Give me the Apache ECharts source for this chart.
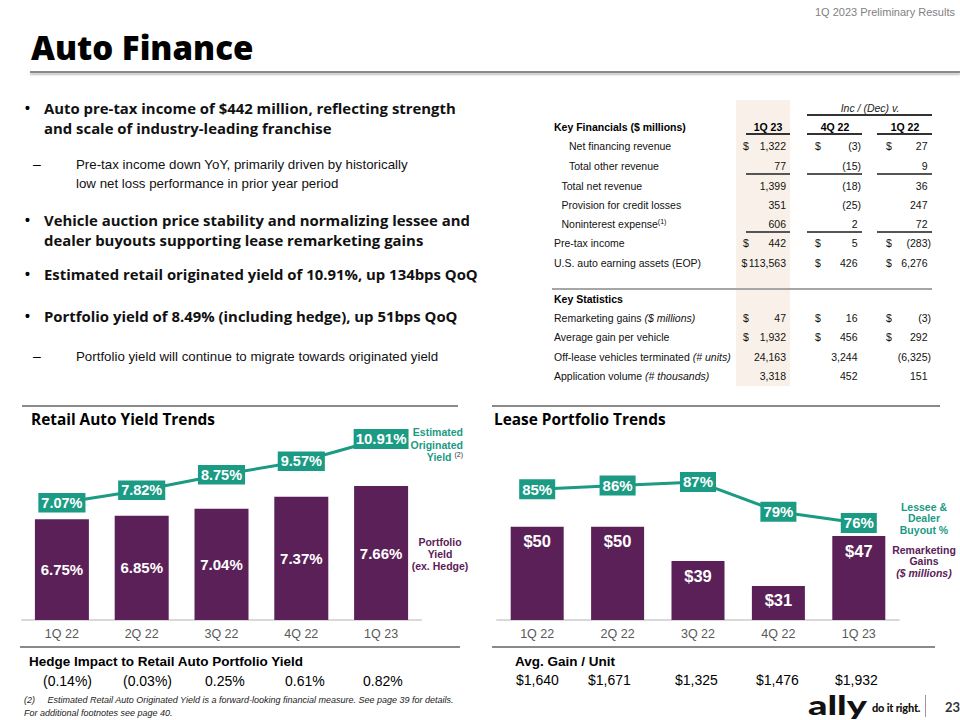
<!DOCTYPE html>
<html><head><meta charset="utf-8">
<script src="https://cdn.jsdelivr.net/npm/echarts@6/dist/echarts.min.js"></script>
<style>
html,body{margin:0;padding:0;background:#fff;}
#page{position:relative;width:960px;height:720px;overflow:hidden;background:#fff;}
#chart{position:absolute;left:0;top:0;width:960px;height:720px;}
.t{position:absolute;white-space:nowrap;font-family:"Liberation Sans",Arial,sans-serif;color:#000;}
.ln{position:absolute;}
.sup{font-size:7px;vertical-align:4px;line-height:0;}
</style></head>
<body><div id="page"><div id="chart"></div></div>
<script>
// ---------- data ----------
const quarters = ['1Q 22','2Q 22','3Q 22','4Q 22','1Q 23'];
const portfolioYield = [6.75, 6.85, 7.04, 7.37, 7.66];
const originatedYield = [7.07, 7.82, 8.75, 9.57, 10.91];
const remarketingGains = [50, 50, 39, 31, 47];
const buyoutPct = [85, 86, 87, 79, 76];
const hedgeImpact = ['(0.14%)', '(0.03%)', '0.25%', '0.61%', '0.82%'];
const avgGainPerUnit = ['$1,640', '$1,671', '$1,325', '$1,476', '$1,932'];

const tableHeaders = ['1Q 23', '4Q 22', '1Q 22'];
const finLabels = ['Net financing revenue', 'Total other revenue', 'Total net revenue', 'Provision for credit losses', 'Noninterest expense<span class="sup">(1)</span>', 'Pre-tax income', 'U.S. auto earning assets (EOP)'];
const finIndent = [2, 2, 1, 1, 1, 0, 0];
const finDollar = [true, false, false, false, false, true, true];
const fin1Q23 = ['1,322', '77', '1,399', '351', '606', '442', '113,563'];
const fin4Q22 = ['(3)', '(15)', '(18)', '(25)', '2', '5', '426'];
const fin1Q22 = ['27', '9', '36', '247', '72', '(283)', '6,276'];
const statLabels = ['Remarketing gains <i>($ millions)</i>', 'Average gain per vehicle', 'Off-lease vehicles terminated <i>(# units)</i>', 'Application volume <i>(# thousands)</i>'];
const statDollar = [true, true, false, false];
const stat1Q23 = ['47', '1,932', '24,163', '3,318'];
const stat4Q22 = ['16', '456', '3,244', '452'];
const stat1Q22 = ['(3)', '292', '(6,325)', '151'];

// ---------- colours ----------
const TEAL = '#1b9a84', PURPLE = '#5b2058';

// ---------- text helpers ----------
const page = document.getElementById('page');
function T(html, x, y, css, align, lh) {
  lh = lh || 16;
  const d = document.createElement('div');
  d.className = 't';
  d.innerHTML = html;
  d.style.lineHeight = lh + 'px';
  d.style.top = (y - lh / 2) + 'px';
  if (align === 'right') { d.style.right = (960 - x) + 'px'; d.style.textAlign = 'right'; }
  else if (align === 'center') { d.style.left = x + 'px'; d.style.transform = 'translateX(-50%)'; d.style.textAlign = 'center'; }
  else d.style.left = x + 'px';
  if (css) d.style.cssText += css;
  page.appendChild(d);
  return d;
}
function L(x1, y, x2, color, w, extra) {
  const d = document.createElement('div');
  d.className = 'ln';
  d.style.cssText = `left:${x1}px;top:${y - w / 2}px;width:${x2 - x1}px;height:${w}px;background:${color};` + (extra || '');
  page.appendChild(d);
}
function R(x, y, w, h, color) {
  const d = document.createElement('div');
  d.className = 'ln';
  d.style.cssText = `left:${x}px;top:${y}px;width:${w}px;height:${h}px;background:${color};`;
  page.appendChild(d);
}

// ---------- header ----------
T('1Q 2023 Preliminary Results', 955, 12, 'font-size:11px;color:#7f7f7f;', 'right');
T('Auto Finance', 31, 48, 'font-family:"Open Sans",sans-serif;font-weight:800;font-size:33px;', 'left', 42);
L(30, 72, 960, '#8a8a8a', 2, 'box-shadow:0 2px 2px rgba(0,0,0,0.25);');

// ---------- bullets ----------
const bCss = 'font-family:"Open Sans",sans-serif;font-weight:700;font-size:14.9px;color:#111;';
const dCss = 'font-size:13.3px;color:#111;';
function bullet(lines, y0) {
  T('•', 25, y0, 'font-size:14px;font-weight:bold;');
  lines.forEach((s, i) => T(s, 44, y0 + i * 20, bCss, 'left', 20));
}
function dash(lines, y0) {
  T('–', 33, y0, 'font-size:14px;');
  lines.forEach((s, i) => T(s, 76, y0 + i * 19, dCss, 'left', 19));
}
bullet(['Auto pre-tax income of $442 million, reflecting strength', 'and scale of industry-leading franchise'], 108);
dash(['Pre-tax income down YoY, primarily driven by historically', 'low net loss performance in prior year period'], 164);
bullet(['Vehicle auction price stability and normalizing lessee and', 'dealer buyouts supporting lease remarketing gains'], 220);
bullet(['Estimated retail originated yield of 10.91%, up 134bps QoQ'], 274);
bullet(['Portfolio yield of 8.49% (including hedge), up 51bps QoQ'], 316);
dash(['Portfolio yield will continue to migrate towards originated yield'], 356);

// ---------- table ----------
R(736, 100, 54, 286, '#f9f1e9');
T('Inc / (Dec) v.', 870, 108, 'font-size:10.5px;font-style:italic;color:#222;', 'center');
L(807, 115, 932, '#333', 1.2);
T('Key Financials ($ millions)', 554, 127, 'font-size:10.5px;font-weight:bold;');
const colC = [768, 835, 905];
tableHeaders.forEach((h, i) => T(h, colC[i], 127, 'font-size:10.5px;font-weight:bold;', 'center'));
const spans = [[746, 790], [807, 862], [877, 932]];
spans.forEach(s => L(s[0], 134, s[1], '#333', 1.2));
const dollarX = [743, 815, 886];
const rightX = [786, 857.5, 927.5];
const tCss = 'font-size:10.5px;color:#111;';
function tRow(label, indent, dollar, vals, y) {
  T(label, 554 + indent * 7.5, y, tCss);
  vals.forEach((v, i) => {
    if (dollar) T('$', dollarX[i] - (v.length > 6 ? 1.5 : 0), y, tCss);
    const neg = v.charAt(0) === '(';
    T(v, rightX[i] + (neg ? 3.5 : 0), y, tCss, 'right');
  });
}
const finY = [146, 166, 186, 205, 224, 243, 263];
finLabels.forEach((lab, i) => tRow(lab, finIndent[i], finDollar[i], [fin1Q23[i], fin4Q22[i], fin1Q22[i]], finY[i]));
[174, 232].forEach(y => spans.forEach(s => L(s[0], y, s[1], '#555', 1.6)));
L(552, 289, 932, '#a6a6a6', 1.5);
T('Key Statistics', 554, 299, 'font-size:10.5px;font-weight:bold;');
const statY = [318, 337, 357, 376];
statLabels.forEach((lab, i) => tRow(lab, 0, statDollar[i], [stat1Q23[i], stat4Q22[i], stat1Q22[i]], statY[i]));

// ---------- chart section frames ----------
L(22, 406, 458, '#8a8a8a', 1.5);
L(492, 406, 940, '#8a8a8a', 1.5);
T('Retail Auto Yield Trends', 31, 420, 'font-family:"Open Sans",sans-serif;font-weight:700;font-size:15.4px;', 'left', 20);
T('Lease Portfolio Trends', 494, 420, 'font-family:"Open Sans",sans-serif;font-weight:700;font-size:15.4px;', 'left', 20);

const legCss = 'font-size:10.5px;font-weight:bold;';
T('Estimated<br>Originated<br>Yield <span class="sup" style="color:#333;font-weight:normal">(2)</span>', 463, 445, legCss + 'color:' + TEAL + ';line-height:12.5px;', 'right', 38);
T('Portfolio<br>Yield<br>(ex. Hedge)', 440, 554, legCss + 'color:' + PURPLE + ';line-height:12px;', 'center', 36);
T('Lessee &amp;<br>Dealer<br>Buyout %', 924, 519, legCss + 'color:' + TEAL + ';line-height:11.5px;', 'center', 35);
T('Remarketing<br>Gains<br><i>($ millions)</i>', 924, 562, legCss + 'color:' + PURPLE + ';line-height:11.5px;', 'center', 35);

// ---------- bottom rows ----------
L(20, 647, 460, '#8a8a8a', 1.5);
L(492, 647, 935, '#8a8a8a', 1.5);
T('Hedge Impact to Retail Auto Portfolio Yield', 29, 662, 'font-size:13.5px;font-weight:bold;');
const hedgeX = [43, 123, 205, 285, 363];
hedgeImpact.forEach((v, i) => T(v, hedgeX[i], 681, 'font-size:14px;'));
T('Avg. Gain / Unit', 515, 662, 'font-size:13.5px;font-weight:bold;');
const gainX = [516, 588, 675, 756, 835];
avgGainPerUnit.forEach((v, i) => T(v, gainX[i], 680, 'font-size:14px;'));

T('(2)&nbsp;&nbsp;&nbsp;&nbsp;&nbsp;Estimated Retail Auto Originated Yield is a forward-looking financial measure. See page 39 for details.', 24, 700, 'font-size:9px;font-style:italic;color:#222;', 'left', 12);
T('For additional footnotes see page 40.', 24, 713, 'font-size:9px;font-style:italic;color:#222;', 'left', 12);

// ---------- logo ----------
T('ally', 808, 705, 'font-family:Lato,sans-serif;font-weight:900;font-size:26px;color:#111;transform:scaleX(1.46);transform-origin:left center;', 'left', 26);
T('do it right.', 872, 708, 'font-family:Lato,sans-serif;font-weight:900;font-size:11px;letter-spacing:-0.2px;color:#111;', 'left', 14);
L(925, 706, 926, '#999', 22);
T('23', 945, 707, 'font-family:Lato,sans-serif;font-weight:700;font-size:13px;color:#333;', 'left', 16);

// ---------- chart ----------
const chart = echarts.init(document.getElementById('chart'), null, { renderer: 'svg', width: 960, height: 720 });
const axisX = (gi) => ({
  type: 'category', gridIndex: gi, data: quarters, boundaryGap: true,
  axisLine: { lineStyle: { color: '#d9d9d9', width: 2 } },
  axisTick: { show: false },
  axisLabel: { color: '#595959', fontSize: 12.5, fontFamily: 'Liberation Sans, Arial', margin: 7 }
});
const lineLabel = (fs, pad) => ({
  show: true, position: 'inside', color: '#fff', fontWeight: 'bold', fontSize: fs,
  fontFamily: 'Liberation Sans, Arial', backgroundColor: TEAL, padding: pad || [3, 3, 2, 3], lineHeight: fs
});
chart.setOption({
  animation: false,
  grid: [
    { left: 22, width: 399, top: 430, height: 190 },
    { left: 497, width: 402, top: 430, height: 190 }
  ],
  xAxis: [axisX(0), axisX(1)],
  yAxis: [
    { type: 'value', gridIndex: 0, min: 4.0, max: 9.19, show: false },
    { type: 'value', gridIndex: 0, min: 0, max: 11.45, show: false },
    { type: 'value', gridIndex: 1, min: 20.1, max: 81.0, show: false },
    { type: 'value', gridIndex: 1, min: 50, max: 100.9, show: false }
  ],
  series: [
    {
      type: 'bar', xAxisIndex: 0, yAxisIndex: 0, data: portfolioYield, barWidth: 54,
      itemStyle: { color: PURPLE },
      label: { show: true, position: 'inside', color: '#fff', fontWeight: 'bold', fontSize: 15, fontFamily: 'Liberation Sans, Arial',
        formatter: p => p.value.toFixed(2) + '%' }
    },
    {
      type: 'line', xAxisIndex: 0, yAxisIndex: 1,
      data: originatedYield.map((v, i) => i === originatedYield.length - 1 ? { value: v, label: lineLabel(15, [3, 2, 2, 2]) } : v),
      symbol: 'circle', symbolSize: 2, itemStyle: { color: TEAL }, lineStyle: { color: TEAL, width: 3 },
      label: Object.assign(lineLabel(14.5), { formatter: p => p.value.toFixed(2) + '%' }), z: 5
    },
    {
      type: 'bar', xAxisIndex: 1, yAxisIndex: 2, data: remarketingGains, barWidth: 53,
      itemStyle: { color: PURPLE },
      label: { show: true, position: 'insideTop', distance: 6, color: '#fff', fontWeight: 'bold', fontSize: 16.5, fontFamily: 'Liberation Sans, Arial',
        formatter: p => '$' + p.value }
    },
    {
      type: 'line', xAxisIndex: 1, yAxisIndex: 3, data: buyoutPct,
      symbol: 'circle', symbolSize: 2, itemStyle: { color: TEAL }, lineStyle: { color: TEAL, width: 3 },
      label: Object.assign(lineLabel(15), { formatter: p => p.value + '%' }), z: 5
    }
  ]
});
</script></body></html>
